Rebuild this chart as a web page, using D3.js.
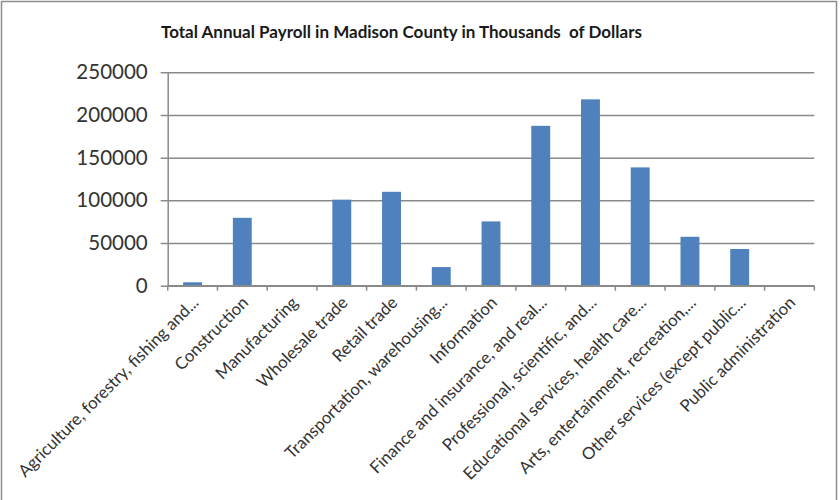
<!DOCTYPE html>
<html>
<head>
<meta charset="utf-8">
<script src="https://cdn.jsdelivr.net/npm/d3@7"></script>
<style>
  html, body { margin: 0; padding: 0; background: #fff; }
  svg { display: block; }
</style>
</head>
<body>
<div id="chart"></div>
<script>
// Industry categories (labels as shown on the axis)
const categories = [
  "Agriculture, forestry, fishing and...",
  "Construction",
  "Manufacturing",
  "Wholesale trade",
  "Retail trade",
  "Transportation, warehousing...",
  "Information",
  "Finance and insurance, and real...",
  "Professional, scientific, and...",
  "Educational services, health care...",
  "Arts, entertainment, recreation,...",
  "Other services (except public...",
  "Public administration"
];

// Annual payroll, thousands of dollars
const payroll = [4000, 79500, 0, 100800, 110000, 21800, 75300, 187300, 218300, 138600, 57300, 43000, 0];

// Value-axis ticks
const yTicks = [0, 50000, 100000, 150000, 200000, 250000];

const W = 840, H = 500;
const margin = { left: 167.7, right: 840 - 814.3, top: 72.3, bottom: 500 - 285.7 };
const FONT = "Lato, 'Open Sans', sans-serif";

const svg = d3.select("#chart").append("svg")
  .attr("width", W).attr("height", H);

// outer frame
svg.append("rect")
  .attr("x", 1.5).attr("y", 1.5)
  .attr("width", 835).attr("height", 520)
  .attr("fill", "#fff")
  .attr("stroke", "#8c8c8c")
  .attr("stroke-width", 1.5);

const x = d3.scaleBand()
  .domain(categories)
  .range([margin.left, W - margin.right])
  .paddingInner(0.62)
  .paddingOuter(0.31);

const y = d3.scaleLinear()
  .domain([0, 250000])
  .range([H - margin.bottom, margin.top]);

// title
svg.append("text")
  .attr("x", 401.5).attr("y", 38)
  .attr("text-anchor", "middle")
  .attr("font-family", FONT)
  .attr("font-weight", "bold")
  .attr("font-size", 17)
  .attr("fill", "#1a1a1a")
  .style("white-space", "pre")
  .text("Total Annual Payroll in Madison County in Thousands  of Dollars");

// horizontal gridlines + y axis
const yAxis = d3.axisLeft(y)
  .tickValues(yTicks)
  .tickSize(-(W - margin.left - margin.right))
  .tickSizeOuter(0)
  .tickPadding(20)
  .tickFormat(d3.format("d"));

const gy = svg.append("g")
  .attr("transform", `translate(${margin.left},0)`)
  .call(yAxis);
gy.select(".domain").attr("stroke", "#8a8a8a").attr("stroke-width", 1.5);
gy.selectAll(".tick line")
  .attr("stroke", "#8a8a8a").attr("stroke-width", 1.5)
  .attr("x1", -7);
gy.selectAll(".tick text")
  .attr("font-family", FONT)
  .attr("font-size", 20.5)
  .attr("fill", "#333");

// bars
svg.append("g").selectAll("rect")
  .data(categories.map((c, i) => ({ c, v: payroll[i] })))
  .join("rect")
  .attr("x", d => x(d.c))
  .attr("width", x.bandwidth())
  .attr("y", d => y(d.v))
  .attr("height", d => y(0) - y(d.v))
  .attr("fill", "#4f81bd");

// category axis
const xBoundaries = d3.range(categories.length + 1)
  .map(i => margin.left + i * x.step());
const gx = svg.append("g");
gx.append("line")
  .attr("x1", margin.left).attr("x2", W - margin.right)
  .attr("y1", y(0)).attr("y2", y(0))
  .attr("stroke", "#8a8a8a").attr("stroke-width", 1.5);
gx.selectAll("line.tk")
  .data(xBoundaries)
  .join("line")
  .attr("class", "tk")
  .attr("x1", d => d).attr("x2", d => d)
  .attr("y1", y(0)).attr("y2", y(0) + 5)
  .attr("stroke", "#8a8a8a").attr("stroke-width", 1.5);

gx.selectAll("text")
  .data(categories)
  .join("text")
  .attr("text-anchor", "end")
  .attr("transform", d => `translate(${x(d) + x.bandwidth() / 2 + 7},${y(0) + 18}) rotate(-45)`)
  .attr("font-family", FONT)
  .attr("font-size", 16.8)
  .attr("fill", "#333")
  .text(d => d);
</script>
</body>
</html>
